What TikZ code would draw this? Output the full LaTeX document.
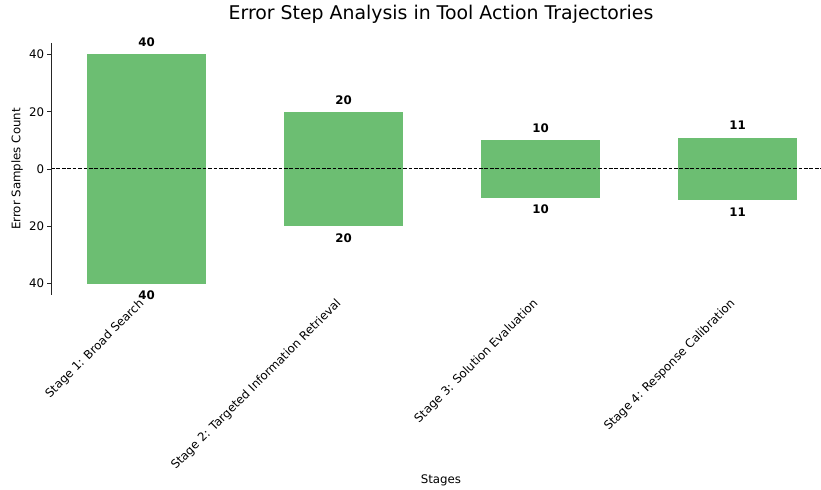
\documentclass[tikz,border=0pt]{standalone}
\usepackage{fontspec}
\setmainfont{DejaVu Sans}
\usetikzlibrary{positioning}
\definecolor{bargreen}{RGB}{108,190,114}

\begin{document}
\begin{tikzpicture}[
        x=0.72pt, y=-0.72pt,
        bar/.style={fill=bargreen, draw=none},
        val/.style={font=\fontsize{8.5}{10}\selectfont\bfseries, inner sep=0pt},
        tick/.style={font=\fontsize{8.5}{10}\selectfont, inner sep=0pt},
        stagelabel/.style={font=\fontsize{8.5}{10}\selectfont, rotate=45, anchor=south east, inner sep=0pt},
        axis/.style={line width=0.6pt, black!85}
        ]
        \useasboundingbox (0,0) rectangle (821,490);
        % bars: centre x / value
        \foreach \cx/\v/\n in {146.5/40/a, 343.5/20/b, 540.5/10/c, 737.5/11/d}{
            \fill[bar] (\cx-59.5,169-2.8625*\v) rectangle (\cx+59.5,169+2.8625*\v);
            \node[val] (top\n) at (\cx,157-2.8625*\v) {\v};
            \node[val] (bot\n) at (\cx,181+2.8625*\v) {\v};
        }
        % zero line
        \coordinate (zl) at (51,169);
        \coordinate (zr) at (821,169);
        \draw[line width=0.72pt, dash pattern=on 2.7pt off 1.2pt] (zl) -- (zr);
        % y axis
        \coordinate (ytop) at (51,43);
        \coordinate (ybot) at (51,295);
        \draw[axis] (ytop) -- (ybot);
        \foreach \v/\t in {40/40, 20/20, 0/0, -20/20, -40/40}{
            \draw[axis] (47,169-2.8625*\v) -- (51,169-2.8625*\v);
            \node[tick, anchor=east] (yt\t\v) at (44.5,169-2.8625*\v) {\t};
        }
        % stage labels
        \node[stagelabel] (s1) at (146.5,306) {Stage 1: Broad Search};
        \node[stagelabel] (s2) at (343.5,306) {Stage 2: Targeted Information Retrieval};
        \node[stagelabel] (s3) at (540.5,306) {Stage 3: Solution Evaluation};
        \node[stagelabel] (s4) at (737.5,306) {Stage 4: Response Calibration};
        % titles
        \node[font=\fontsize{13.6}{16}\selectfont] (title) at (441,14) {Error Step Analysis in Tool Action Trajectories};
        \node[tick] (xlab) at (441,480) {Stages};
        \node[tick, rotate=90] (ylab) at (17,169) {Error Samples Count};
    \end{tikzpicture}
\end{document}
